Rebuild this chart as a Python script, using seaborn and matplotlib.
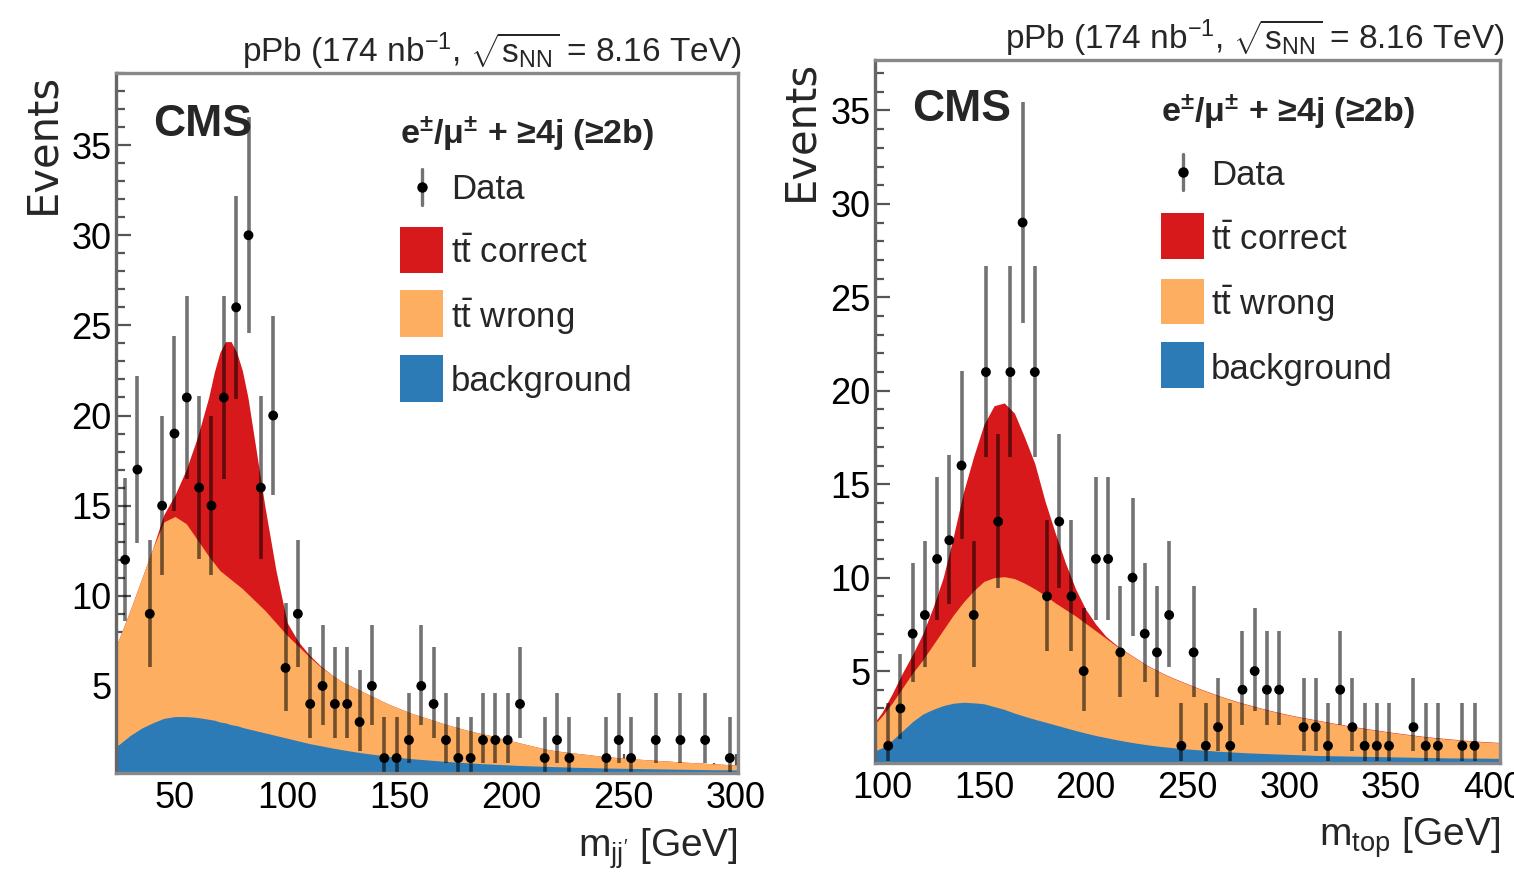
import numpy as np
import pandas as pd
import matplotlib
matplotlib.use("Agg")
import matplotlib.pyplot as plt
import seaborn as sns
from matplotlib import font_manager
from matplotlib.patches import Rectangle
from matplotlib.lines import Line2D
from matplotlib.ticker import MultipleLocator

# ---------------- data ----------------
# left panel: m_jj' histogram, 50 bins from 25 to 300 GeV
left_bin_lo, left_bin_hi, left_nbins = 25.0, 300.0, 50
left_counts = [12, 17, 9, 15, 19, 21, 16, 15, 21, 26,
               30, 16, 20, 6, 9, 4, 5, 4, 4, 3,
               5, 1, 1, 2, 5, 4, 2, 1, 1, 2,
               2, 2, 4, 0, 1, 2, 1, 0, 0, 1,
               2, 1, 0, 2, 0, 2, 0, 2, 0, 1]

left_grid = [23.5, 25, 30, 35, 40, 45, 50, 55, 60, 65, 67.5, 70, 72.5, 75, 77.5, 80, 82.5,
             85, 87.5, 90, 95, 100, 105, 110, 115, 120, 125, 130, 135, 140, 145, 150, 155,
             160, 165, 170, 175, 180, 185, 190, 195, 200, 205, 210, 215, 220, 225, 230,
             235, 240, 245, 250, 255, 260, 265, 270, 275, 280, 285, 290, 295, 300, 301]
left_bkg = [1.65, 1.75, 2.25, 2.65, 2.95, 3.2, 3.3, 3.3, 3.25, 3.15, 3.1, 3.0, 2.95, 2.85, 2.8,
            2.7, 2.62, 2.55, 2.47, 2.4, 2.25, 2.1, 1.95, 1.8, 1.68, 1.56, 1.45, 1.35, 1.26,
            1.18, 1.1, 1.03, 0.97, 0.92, 0.87, 0.82, 0.78, 0.74, 0.7, 0.67, 0.64, 0.61, 0.58,
            0.56, 0.54, 0.52, 0.5, 0.48, 0.47, 0.45, 0.44, 0.43, 0.42, 0.41, 0.4, 0.39, 0.38,
            0.37, 0.36, 0.35, 0.35, 0.34, 0.34]
left_bkg_wrong = [7.1, 7.6, 9.2, 10.9, 12.6, 14.1, 14.4, 14.0, 13.1, 12.2, 11.8, 11.4, 11.15,
                  10.9, 10.65, 10.4, 10.1, 9.8, 9.5, 9.2, 8.5, 7.8, 7.2, 6.6, 6.05, 5.6, 5.2,
                  4.9, 4.6, 4.3, 4.0, 3.75, 3.5, 3.3, 3.1, 2.9, 2.72, 2.55, 2.4, 2.27, 2.1,
                  1.95, 1.8, 1.65, 1.5, 1.4, 1.32, 1.25, 1.18, 1.1, 1.05, 1.0, 0.95, 0.91,
                  0.87, 0.83, 0.79, 0.75, 0.72, 0.68, 0.65, 0.62, 0.62]
left_total = [7.1, 7.6, 9.2, 10.9, 12.6, 14.5, 15.6, 17.0, 18.8, 21.0, 22.4, 23.5, 24.1,
              24.1, 23.5, 22.5, 21.0, 19.0, 17.0, 15.0, 11.4, 8.5, 7.45, 6.7, 6.1, 5.6, 5.2,
              4.9, 4.6, 4.3, 4.0, 3.75, 3.5, 3.3, 3.1, 2.9, 2.72, 2.55, 2.4, 2.27, 2.1,
              1.95, 1.8, 1.65, 1.5, 1.4, 1.32, 1.25, 1.18, 1.1, 1.05, 1.0, 0.95, 0.91,
              0.87, 0.83, 0.79, 0.75, 0.72, 0.68, 0.65, 0.62, 0.62]

# right panel: m_top histogram, 50 bins from 100 to 400 GeV
right_bin_lo, right_bin_hi, right_nbins = 100.0, 400.0, 50
right_counts = [1, 3, 7, 8, 11, 12, 16, 8, 21, 13,
                21, 29, 21, 9, 13, 9, 5, 11, 11, 6,
                10, 7, 6, 8, 1, 6, 1, 2, 1, 4,
                5, 4, 4, 0, 2, 2, 1, 4, 2, 1,
                1, 1, 0, 2, 1, 1, 0, 1, 1, 0]

right_grid = [95, 100, 105, 110, 115, 120, 125, 130, 135, 140, 145, 150, 155, 160, 165, 170,
              175, 180, 185, 190, 195, 200, 205, 210, 215, 220, 225, 230, 235, 240, 245, 250,
              255, 260, 265, 270, 275, 280, 285, 290, 295, 300, 305, 310, 315, 320, 325, 330,
              335, 340, 345, 350, 355, 360, 365, 370, 375, 380, 385, 390, 395, 400, 405]
right_bkg = [0.65, 0.9, 1.3, 1.8, 2.3, 2.7, 2.95, 3.15, 3.28, 3.33, 3.3, 3.25, 3.1, 2.95,
             2.75, 2.58, 2.42, 2.27, 2.12, 1.97, 1.82, 1.68, 1.55, 1.44, 1.33, 1.23, 1.14,
             1.06, 0.99, 0.93, 0.88, 0.83, 0.79, 0.75, 0.71, 0.68, 0.65, 0.62, 0.6, 0.58,
             0.56, 0.54, 0.52, 0.5, 0.48, 0.47, 0.46, 0.45, 0.44, 0.43, 0.42, 0.41, 0.4,
             0.39, 0.38, 0.37, 0.36, 0.35, 0.35, 0.34, 0.34, 0.33, 0.33]
right_bkg_wrong = [2.0, 2.6, 3.3, 4.1, 4.9, 5.6, 6.4, 7.2, 8.0, 8.7, 9.3, 9.8, 10.0, 10.05,
                   9.95, 9.7, 9.4, 9.05, 8.65, 8.3, 7.95, 7.55, 7.15, 6.75, 6.35, 6.0, 5.65,
                   5.3, 5.02, 4.75, 4.52, 4.3, 4.08, 3.88, 3.68, 3.5, 3.33, 3.18, 3.03, 2.89,
                   2.76, 2.64, 2.53, 2.43, 2.33, 2.23, 2.13, 2.04, 1.95, 1.87, 1.79, 1.71,
                   1.64, 1.57, 1.5, 1.44, 1.39, 1.34, 1.29, 1.25, 1.21, 1.18, 1.15]
right_total = [2.05, 2.8, 3.8, 4.9, 5.9, 7.0, 8.4, 10.0, 12.2, 14.6, 16.5, 18.2, 19.2, 19.35,
               18.8, 17.5, 16.1, 14.1, 12.4, 10.8, 9.4, 8.3, 7.5, 6.85, 6.4, 6.02, 5.67,
               5.32, 5.04, 4.77, 4.54, 4.32, 4.1, 3.9, 3.7, 3.52, 3.35, 3.2, 3.05, 2.91,
               2.78, 2.66, 2.55, 2.45, 2.35, 2.25, 2.15, 2.06, 1.97, 1.89, 1.81, 1.73,
               1.66, 1.59, 1.52, 1.46, 1.41, 1.36, 1.31, 1.27, 1.23, 1.2, 1.17]

title_text = r"pPb (174 nb$^{\mathregular{-1}}$, $\sqrt{s_{\mathrm{NN}}}$ = 8.16 TeV)"
header_text = r"e$^{\pm}$/$\mu^{\pm}$ + ≥4j (≥2b)"
legend_labels = ["Data", r"$\mathrm{t\bar{t}}$ correct", r"$\mathrm{t\bar{t}}$ wrong", "background"]
xlabels = [r"m$_{\mathrm{jj'}}$ [GeV]", r"m$_{\mathrm{top}}$ [GeV]"]

C_CORRECT = "#d7191c"
C_WRONG = "#fdae61"
C_BKG = "#2c7bb6"

# ---------------- style ----------------
sns.set_theme(style="ticks")
names = {f.name for f in font_manager.fontManager.ttflist}
NARROW = next(n for n in ["Liberation Sans Narrow", "Liberation Sans", "DejaVu Sans"] if n in names)
plt.rcParams["font.family"] = [NARROW, "DejaVu Sans"]
plt.rcParams["mathtext.fontset"] = "custom"
plt.rcParams["mathtext.rm"] = NARROW
plt.rcParams["mathtext.it"] = NARROW + ":italic"
plt.rcParams["mathtext.bf"] = NARROW + ":bold"
plt.rcParams["mathtext.default"] = "regular"

W, H = 1514, 874
fig = plt.figure(figsize=(W / 100, H / 100), dpi=100)


def T(x, y, s, **kw):
    fig.text(x / W, 1 - y / H, s, **kw)


def garwood(n):
    n = np.asarray(n, float)
    nn = np.maximum(n, 1)
    lo = np.where(n > 0, nn * (1 - 1 / (9 * nn) - 1 / (3 * np.sqrt(nn))) ** 3, 0.0)
    m = n + 1
    hi = m * (1 - 1 / (9 * m) + 1 / (3 * np.sqrt(m))) ** 3
    return lo, hi


def panel(box, lo, hi, nb, counts, grid, bkg, bw, tot, xlim, ylim, xlabel, xl_pos,
          title_pos, cms_pos, leg):
    x0, y0, x1, y1 = box
    ax = fig.add_axes([x0 / W, 1 - y1 / H, (x1 - x0) / W, (y1 - y0) / H])
    g = np.array(grid)
    ax.fill_between(g, 0, np.array(tot), color=C_CORRECT, lw=0, zorder=1)
    ax.fill_between(g, 0, np.array(bw), color=C_WRONG, lw=0, zorder=2)
    ax.fill_between(g, 0, np.array(bkg), color=C_BKG, lw=0, zorder=3)

    width = (hi - lo) / nb
    centers = lo + width * (np.arange(nb) + 0.5)
    c = np.array(counts, float)
    mask = c > 0
    elo, ehi = garwood(c[mask])
    ax.vlines(centers[mask], elo, ehi, color=(0, 0, 0, 0.55), lw=2.6, zorder=4)
    df = pd.DataFrame({"x": centers[mask], "n": c[mask]})
    sns.scatterplot(data=df, x="x", y="n", ax=ax, color="black", s=50, marker="o",
                    edgecolor="none", zorder=5, legend=False)

    ax.set_xlim(*xlim)
    ax.set_ylim(*ylim)
    ax.set_xlabel("")
    ax.set_ylabel("")
    ax.xaxis.set_major_locator(MultipleLocator(50))
    ax.xaxis.set_minor_locator(MultipleLocator(10))
    ax.yaxis.set_major_locator(MultipleLocator(5))
    ax.yaxis.set_minor_locator(MultipleLocator(1))
    ax.tick_params(which="both", direction="in", top=False, right=False, color="#555555",
                   labelcolor="black", labelsize=26, width=1.6)
    ax.tick_params(axis="x", which="major", length=14, pad=6)
    ax.tick_params(axis="x", which="minor", length=7)
    ax.tick_params(axis="y", which="major", length=11, pad=3)
    ax.tick_params(axis="y", which="minor", length=6.5)
    for s in ax.spines.values():
        s.set_visible(True)
        s.set_color("#888888")
        s.set_linewidth(2.4)
        s.set_zorder(6)
    ax.spines["left"].set_color("#666666")

    # texts
    T(title_pos[0], title_pos[1], title_text, ha="right", va="baseline", fontsize=24)
    T(cms_pos[0], cms_pos[1], "CMS", ha="left", va="baseline", fontsize=32, fontweight="bold")
    T(xl_pos[0], xl_pos[1], xlabel, ha="right", va="baseline", fontsize=28)
    T(leg["events"][0], leg["events"][1], "Events", rotation=90, ha="center", va="top",
      fontsize=30, family="DejaVu Sans")

    bx, tx = leg["box_x"], leg["text_x"]
    T(bx, leg["header_y"], header_text, ha="left", va="baseline", fontsize=24.5, fontweight="bold")
    for lab, by in zip(legend_labels, leg["base_y"]):
        T(tx, by, lab, ha="left", va="baseline", fontsize=25)
    for col, (ya, yb) in zip([C_CORRECT, C_WRONG, C_BKG], leg["boxes"]):
        fig.add_artist(Rectangle((bx / W, 1 - yb / H), 43 / W, (yb - ya) / H,
                                 transform=fig.transFigure, color=col, lw=0))
    mx, my = leg["marker"]
    fig.add_artist(Line2D([mx / W, mx / W], [1 - (my + 18) / H, 1 - (my - 18) / H],
                          transform=fig.transFigure, color=(0, 0, 0, 0.55), lw=2.4))
    fig.add_artist(Line2D([mx / W], [1 - my / H], transform=fig.transFigure, marker="o",
                          ms=6.5, color="black", lw=0))
    return ax


panel((116, 73, 738, 773), left_bin_lo, left_bin_hi, left_nbins, left_counts,
      left_grid, left_bkg, left_bkg_wrong, left_total,
      (23.7, 300.9), (0.17, 39.0), xlabels[0], (738, 857), (742, 62), (153, 136),
      dict(events=(42, 73), box_x=400, text_x=451, header_y=144,
           base_y=[199, 263, 328, 391], boxes=[(227, 273), (290, 337), (355, 402)],
           marker=(422, 187)))

panel((875, 60, 1500, 763), right_bin_lo, right_bin_hi, right_nbins, right_counts,
      right_grid, right_bkg, right_bkg_wrong, right_total,
      (96.5, 403.5), (0.08, 37.7), xlabels[1], (1500, 846), (1505, 49), (912, 121),
      dict(events=(800, 60), box_x=1161, text_x=1211, header_y=122,
           base_y=[185, 250, 315, 379], boxes=[(213, 259), (279, 324), (342, 388)],
           marker=(1183, 172)))

fig.savefig("out.png", dpi=100)
